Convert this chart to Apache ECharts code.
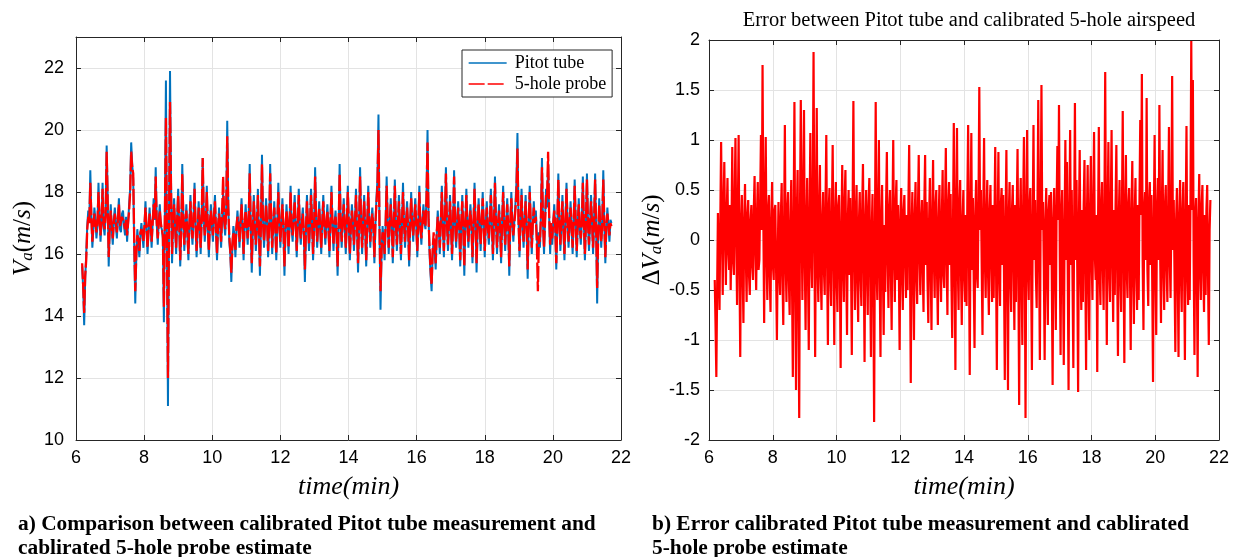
<!DOCTYPE html>
<html>
<head>
<meta charset="utf-8">
<script src="https://cdn.jsdelivr.net/npm/echarts@6/dist/echarts.min.js"></script>
<style>
html, body { margin: 0; padding: 0; background: #ffffff; }
#chart { width: 1235px; height: 557px; }
</style>
</head>
<body>
<div id="chart"></div>
<script>
// Airspeed log, sampled at a fixed rate starting at T0 (minutes)
const T0 = 6.18;
const STEP_SPEED = 0.03;   // sample period of the airspeed traces (min)
const STEP_ERROR = 0.025;  // sample period of the error trace (min)

const timeTicks = [6, 8, 10, 12, 14, 16, 18, 20, 22];
const speedTicks = [10, 12, 14, 16, 18, 20, 22];
const errorTicks = [-2, -1.5, -1, -0.5, 0, 0.5, 1, 1.5, 2];

// Calibrated Pitot tube airspeed (m/s)
const pitotTube = [
  15.6, 14.9, 13.7, 15.2, 16.0, 16.9, 17.4, 17.0, 18.7, 17.3, 16.2, 16.8, 17.5, 17.1, 16.5, 16.9, 18.3, 17.2, 16.4, 17.0,
  18.3, 16.9, 16.6, 17.3, 19.5, 17.9, 15.6, 16.8, 17.6, 16.8, 16.3, 17.1, 17.5, 16.9, 16.5, 17.2, 17.8, 16.8, 16.7, 17.3,
  17.4, 16.9, 16.6, 17.2, 16.4, 17.0, 17.6, 18.1, 19.6, 18.9, 18.4, 16.2, 14.4, 15.9, 16.8, 16.4, 15.9, 16.6, 17.0, 16.6,
  16.2, 16.9, 17.7, 16.8, 16.0, 16.7, 17.5, 16.9, 16.2, 17.0, 17.8, 17.1, 18.8, 17.0, 16.3, 17.1, 17.6, 16.9, 16.8, 16.5,
  13.8, 17.4, 21.6, 16.2, 11.1, 16.9, 21.9, 18.3, 15.7, 17.0, 17.8, 16.8, 16.0, 17.2, 18.1, 16.9, 15.6, 16.7, 18.9, 17.3,
  16.1, 16.9, 17.6, 16.6, 15.8, 17.0, 17.9, 16.8, 16.3, 17.2, 18.3, 16.9, 15.9, 16.7, 17.7, 17.0, 16.0, 17.2, 19.1, 17.3,
  16.4, 17.0, 18.2, 16.8, 15.9, 16.9, 17.6, 16.9, 16.4, 17.3, 17.9, 16.7, 15.8, 16.8, 17.5, 16.9, 16.2, 17.1, 18.0, 17.0,
  16.6, 17.4, 20.3, 17.6, 16.4, 16.0, 15.1, 16.2, 16.9, 16.6, 15.9, 16.8, 17.4, 16.9, 16.2, 17.1, 17.8, 16.8, 15.8, 16.9,
  17.6, 16.9, 16.3, 17.2, 18.9, 16.8, 15.4, 16.7, 17.9, 17.0, 16.1, 16.8, 18.1, 16.7, 15.3, 16.9, 19.2, 17.1, 16.2, 16.9,
  17.8, 17.0, 15.9, 16.8, 18.9, 17.2, 16.0, 16.9, 17.7, 16.8, 15.8, 17.0, 18.3, 16.9, 16.2, 17.1, 17.8, 16.7, 15.3, 16.8,
  17.6, 16.9, 16.0, 17.1, 18.2, 16.8, 16.4, 17.2, 17.9, 16.9, 15.9, 17.0, 18.1, 16.8, 16.3, 17.1, 17.5, 16.6, 15.1, 16.7,
  17.9, 17.0, 16.1, 16.9, 18.1, 17.1, 15.8, 16.8, 18.8, 17.2, 16.2, 16.9, 17.7, 16.8, 16.0, 17.1, 17.9, 16.9, 16.3, 17.0,
  17.6, 16.8, 15.9, 17.1, 18.2, 16.9, 16.1, 17.0, 17.4, 16.6, 15.3, 16.8, 18.9, 17.0, 16.2, 17.1, 17.8, 16.9, 16.0, 17.0,
  18.2, 16.9, 15.8, 16.8, 17.6, 17.0, 16.1, 17.1, 18.1, 16.8, 15.4, 16.9, 18.8, 17.1, 16.0, 17.0, 17.9, 16.8, 15.6, 16.9,
  18.2, 17.0, 16.2, 17.1, 17.5, 16.8, 15.7, 16.9, 17.8, 18.4, 20.5, 16.8, 14.2, 16.0, 16.9, 16.5, 15.8, 16.9, 18.5, 17.1,
  16.0, 16.9, 17.8, 17.0, 15.7, 16.8, 18.4, 17.1, 16.1, 16.9, 17.9, 16.8, 15.8, 17.0, 18.3, 16.9, 16.2, 17.1, 17.7, 16.8,
  15.6, 16.9, 18.0, 17.0, 16.4, 17.2, 17.8, 16.9, 15.9, 17.0, 18.2, 16.8, 16.3, 17.1, 17.6, 17.0, 16.8, 17.9, 20.0, 17.2,
  16.0, 15.3, 14.8, 16.0, 16.5, 16.1, 15.5, 16.6, 17.4, 16.8, 16.0, 17.0, 18.2, 16.9, 15.9, 17.1, 18.8, 17.0, 16.1, 16.9,
  17.9, 16.8, 15.8, 17.0, 18.7, 16.9, 16.2, 17.1, 17.7, 16.8, 15.6, 16.9, 17.9, 16.8, 15.3, 16.9, 18.1, 17.0, 16.2, 17.1,
  17.6, 16.8, 15.7, 16.9, 18.3, 17.0, 15.4, 16.8, 17.8, 16.9, 16.1, 17.1, 18.0, 16.9, 15.9, 17.0, 17.7, 16.8, 16.3, 17.1,
  18.1, 16.9, 15.8, 17.0, 18.5, 17.1, 16.0, 16.9, 17.6, 16.8, 15.7, 17.0, 18.2, 16.9, 16.1, 17.0, 17.8, 16.8, 15.3, 16.9,
  18.0, 17.0, 16.4, 17.1, 17.6, 18.3, 19.9, 17.2, 15.9, 16.9, 18.1, 17.0, 16.2, 17.1, 17.9, 16.8, 15.2, 16.9, 18.2, 17.0,
  16.0, 16.9, 17.7, 17.0, 17.4, 16.6, 15.9, 16.7, 16.2, 17.3, 19.1, 17.0, 16.0, 17.1, 18.1, 17.5, 19.0, 17.2, 16.0, 16.9,
  16.3, 17.0, 17.6, 16.8, 15.5, 16.9, 18.6, 17.1, 16.1, 16.9, 17.9, 16.8, 15.8, 17.0, 18.3, 17.1, 16.2, 16.9, 17.7, 16.8,
  16.0, 17.0, 18.4, 17.1, 15.9, 16.9, 17.8, 16.8, 16.3, 17.1, 18.5, 17.0, 15.8, 16.9, 18.6, 17.1, 16.1, 16.9, 17.9, 17.0,
  16.0, 17.1, 18.6, 16.8, 14.4, 16.5, 17.8, 16.9, 16.2, 17.1, 18.7, 17.0, 15.7, 16.8, 17.5, 16.9, 16.4, 17.1, 17.0
];

// Calibrated 5-hole probe airspeed estimate (m/s)
const fiveHoleProbe = [
  15.7, 15.0, 14.1, 15.3, 15.8, 16.8, 17.2, 17.0, 18.3, 17.2, 16.4, 16.9, 17.3, 17.0, 16.7, 17.0, 18.0, 17.1, 16.6, 17.1,
  18.1, 17.0, 16.8, 17.2, 19.3, 17.7, 15.9, 16.9, 17.4, 16.9, 16.5, 17.0, 17.3, 17.0, 16.7, 17.1, 17.6, 16.9, 16.9, 17.2,
  17.2, 17.0, 16.8, 17.1, 16.6, 17.0, 17.4, 18.0, 19.3, 18.8, 18.6, 16.4, 14.8, 16.0, 16.6, 16.5, 16.1, 16.7, 16.8, 16.7,
  16.4, 16.9, 17.5, 16.9, 16.2, 16.8, 17.3, 17.0, 16.4, 17.0, 17.6, 17.1, 18.5, 17.0, 16.5, 17.0, 17.4, 17.0, 17.0, 16.6,
  14.3, 17.3, 20.4, 16.4, 12.0, 16.8, 20.9, 18.1, 16.0, 17.0, 17.6, 16.9, 16.2, 17.1, 17.9, 17.0, 15.8, 16.8, 18.6, 17.2,
  16.3, 17.0, 17.4, 16.7, 16.0, 17.0, 17.7, 16.9, 16.5, 17.1, 18.1, 17.0, 16.1, 16.8, 17.5, 17.0, 16.2, 17.1, 19.1, 17.2,
  16.6, 17.0, 18.0, 16.9, 16.1, 17.0, 17.4, 17.0, 16.6, 17.2, 17.7, 16.8, 16.0, 16.9, 17.3, 17.0, 16.4, 17.4, 18.5, 17.1,
  16.8, 17.3, 19.8, 17.5, 16.6, 16.1, 15.4, 16.3, 16.7, 16.7, 16.1, 16.9, 17.2, 17.0, 16.4, 17.0, 17.6, 16.9, 16.0, 17.0,
  17.4, 17.0, 16.5, 17.1, 18.6, 16.9, 15.7, 16.8, 17.7, 17.0, 16.3, 16.9, 17.9, 16.8, 15.6, 17.0, 18.9, 17.0, 16.4, 17.0,
  17.6, 17.0, 16.1, 16.9, 18.6, 17.1, 16.2, 17.0, 17.5, 16.9, 16.0, 17.0, 18.0, 17.0, 16.4, 17.0, 17.6, 16.8, 15.6, 16.9,
  17.4, 17.0, 16.2, 17.0, 18.0, 16.9, 16.6, 17.1, 17.7, 17.0, 16.1, 17.0, 17.9, 16.9, 16.5, 17.0, 17.3, 16.7, 15.5, 16.8,
  17.7, 17.0, 16.3, 17.0, 17.9, 17.0, 16.0, 16.9, 18.5, 17.1, 16.4, 17.0, 17.5, 16.9, 16.2, 17.0, 17.7, 17.0, 16.5, 17.0,
  17.4, 16.9, 16.1, 17.0, 18.0, 17.0, 16.3, 17.0, 17.2, 16.7, 15.6, 16.9, 18.6, 17.0, 16.4, 17.0, 17.6, 17.0, 16.2, 17.0,
  18.0, 17.0, 16.0, 16.9, 17.4, 17.0, 16.3, 17.0, 17.9, 16.9, 15.7, 17.0, 18.5, 17.0, 16.2, 17.0, 17.7, 16.9, 15.8, 17.0,
  18.0, 17.0, 16.4, 17.0, 17.3, 16.9, 15.9, 17.0, 17.6, 18.2, 20.0, 16.9, 14.8, 16.1, 16.7, 16.6, 16.0, 17.0, 18.2, 17.0,
  16.2, 17.0, 17.6, 17.0, 15.9, 16.9, 18.2, 17.0, 16.3, 17.0, 17.7, 16.9, 16.0, 17.0, 18.0, 17.0, 16.4, 17.0, 17.5, 16.9,
  15.8, 17.0, 17.8, 17.0, 16.6, 17.1, 17.6, 17.0, 16.1, 17.0, 18.0, 16.9, 16.5, 17.0, 17.4, 17.0, 16.9, 17.8, 19.6, 17.1,
  16.2, 15.5, 15.0, 16.1, 16.7, 16.2, 15.7, 16.7, 17.2, 16.9, 16.2, 17.0, 18.0, 17.0, 16.1, 17.0, 18.6, 17.0, 16.3, 17.0,
  17.7, 16.9, 16.0, 17.0, 18.5, 17.0, 16.4, 17.0, 17.5, 16.9, 15.8, 17.0, 17.7, 16.9, 15.6, 17.0, 17.9, 17.0, 16.4, 17.0,
  17.4, 16.9, 15.9, 17.0, 18.1, 17.0, 15.7, 16.9, 17.6, 17.0, 16.3, 17.0, 17.8, 17.0, 16.1, 17.0, 17.5, 16.9, 16.5, 17.0,
  17.9, 17.0, 16.0, 17.0, 18.3, 17.0, 16.2, 17.0, 17.4, 16.9, 15.9, 17.0, 18.0, 17.0, 16.3, 17.0, 17.6, 16.9, 15.6, 17.0,
  17.8, 17.0, 16.6, 17.0, 17.4, 18.0, 19.4, 17.1, 16.1, 17.0, 17.9, 17.0, 16.4, 17.0, 17.7, 16.9, 15.5, 17.0, 18.0, 17.0,
  16.2, 17.0, 17.5, 17.0, 17.2, 16.3, 14.8, 16.6, 16.4, 17.2, 18.8, 17.0, 16.2, 17.0, 17.9, 17.8, 19.3, 17.3, 16.3, 17.0,
  16.5, 17.0, 17.4, 16.9, 15.7, 17.0, 18.4, 17.0, 16.3, 17.0, 17.7, 16.9, 16.0, 17.0, 18.1, 17.0, 16.4, 17.0, 17.5, 16.9,
  16.2, 17.0, 18.2, 17.0, 16.1, 17.0, 17.6, 16.9, 16.5, 17.0, 18.3, 17.0, 16.0, 17.0, 18.4, 17.0, 16.3, 17.0, 17.7, 17.0,
  16.2, 17.0, 18.4, 16.9, 14.9, 16.6, 17.6, 17.0, 16.4, 17.0, 18.4, 17.0, 15.9, 16.9, 17.3, 17.0, 16.6, 17.0, 16.9
];

// Airspeed error between the two sensors (m/s)
const airspeedError = [
  -0.40, -0.85, -1.37, -0.50, 0.27, -0.30, -0.70, 0.20, 0.98, 0.15, -0.55, 0.30, 0.78, 0.05, -0.45, 0.25, 0.62, -0.10, -0.30, 0.35,
  -0.50, 0.10, 0.93, -0.20, -0.35, 0.40, 1.02, 0.05, -0.65, 0.30, 1.05, -0.25, -1.17, 0.15, 0.45, -0.30, -0.83, 0.20, 0.56, -0.15,
  -0.62, 0.25, 0.40, -0.35, -0.55, 0.20, 0.35, -0.25, -0.40, 0.30, 0.64, -0.10, -0.50, 0.25, 0.58, -0.30, -0.20, 0.40, 1.05, 0.10,
  1.75, 0.20, -0.83, 0.35, 1.03, -0.15, -0.60, 0.30, 0.45, -0.35, -0.72, 0.20, 0.58, -0.25, -0.40, 0.30, 0.35, -0.30, -1.00, -0.20,
  0.38, -0.30, -0.55, 0.25, 0.57, -0.35, -0.85, 0.10, 1.15, -0.20, -0.62, 0.30, 0.48, -0.40, -0.75, 0.15, 0.60, -0.45, -1.37, 0.20,
  1.38, -0.30, -1.50, 0.25, 0.70, -0.60, -1.78, 0.30, 1.40, 0.20, -0.60, 0.35, 1.30, -0.20, -0.90, 0.15, 0.62, -0.30, -1.10, 0.25,
  1.07, -0.15, -0.48, 0.40, 1.88, 0.10, -1.17, 0.20, 1.32, -0.25, -0.62, 0.30, 0.75, -0.35, -0.70, 0.20, 0.48, -0.30, -0.55, 0.35,
  1.05, -0.20, -1.05, 0.30, 0.52, -0.35, -0.66, 0.25, 0.95, -0.15, -1.05, 0.20, 0.58, -0.40, -0.72, 0.35, 0.45, -0.30, -1.28, 0.10,
  0.75, -0.25, -0.62, 0.40, 0.70, -0.30, -0.95, 0.20, 0.50, -0.35, 0.42, -0.20, -1.15, 0.30, 1.39, -0.10, -0.70, 0.25, 0.55, -0.40,
  -0.82, 0.20, 0.48, -0.35, -0.66, 0.30, 0.76, -0.20, -1.22, 0.15, 0.50, -0.30, -0.75, 0.35, 0.62, -0.25, -1.17, 0.10, 0.46, -0.40,
  -1.82, 0.05, 1.38, -0.25, -0.60, 0.30, 1.00, -0.35, -1.17, 0.20, 0.55, -0.30, -0.95, 0.15, -0.52, 0.35, 0.88, -0.20, -0.68, 0.30,
  0.50, -0.30, -0.90, 0.25, 1.00, -0.15, -0.62, 0.35, 0.60, -0.40, 0.35, -0.25, -1.10, 0.20, 0.52, -0.35, -0.70, 0.30, 0.45, -0.20,
  -0.58, 0.25, -0.50, 0.35, 0.95, -0.20, -1.43, 0.10, 0.48, -0.30, -1.00, 0.25, 0.58, -0.35, -0.64, 0.30, 0.85, -0.15, -0.55, 0.20,
  0.40, -0.30, -0.72, 0.35, 0.85, -0.25, 0.38, -0.40, -0.83, 0.20, 0.62, -0.30, -0.90, 0.25, 0.80, -0.20, -0.58, 0.35, 0.50, -0.35,
  -0.85, 0.20, 0.55, -0.30, -0.62, 0.25, 0.70, -0.35, -0.48, 0.30, 0.92, -0.20, -0.75, 0.35, 0.58, -0.25, 0.46, -0.40, -0.98, 0.15,
  1.17, -0.20, -1.30, 0.30, 1.12, -0.25, -0.70, 0.35, 0.60, -0.30, -0.85, 0.20, 0.50, -0.35, -0.62, 0.25, -0.66, 0.40, 1.15, -0.10,
  -1.35, 0.20, 1.07, -0.30, 0.42, -0.40, -1.08, 0.25, 0.60, -0.35, -0.48, 0.35, 1.53, 0.10, 0.50, -0.25, -0.95, 0.30, 1.02, -0.20,
  -0.58, 0.25, 0.60, -0.35, -0.75, 0.30, 0.55, -0.20, -0.62, 0.35, -0.58, 0.20, 0.93, -0.25, -1.30, 0.15, 0.88, -0.30, -0.66, 0.35,
  0.52, -0.25, 0.45, -0.35, -1.40, 0.20, 0.90, -0.30, -1.50, 0.25, 0.58, -0.35, -0.72, 0.30, 0.55, -0.20, -0.90, 0.35, -0.62, 0.30,
  0.91, -0.30, -1.65, 0.20, 0.62, -0.35, -1.05, 0.30, 1.03, -0.10, -1.78, 0.20, 1.10, -0.25, -0.60, 0.35, 0.52, -0.30, -1.30, 0.15,
  1.15, -0.20, 0.40, -0.35, -0.68, 0.30, 1.40, -0.15, -1.20, 0.25, 1.55, 0.10, 0.38, -0.30, -1.20, 0.20, 0.52, -0.35, -0.85, 0.30,
  0.45, -0.25, 0.48, -0.40, -1.45, 0.20, 0.52, -0.30, -0.90, 0.35, 0.94, 0.20, 1.35, -0.15, -1.15, 0.25, 0.50, -0.35, -1.25, 0.10,
  1.00, -0.20, 0.78, -0.30, -1.50, 0.25, 1.10, -0.25, 0.50, -0.40, -1.28, 0.15, 1.37, -0.20, 0.60, -0.35, -1.52, 0.20, 0.90, -0.25,
  -0.70, 0.30, -0.62, 0.35, 0.80, -0.25, -1.30, 0.20, 0.75, -0.35, -1.00, 0.30, 0.84, -0.20, -0.60, 0.35, 1.08, -0.15, -0.40, 0.25,
  -1.32, 0.15, 1.13, -0.30, -0.65, 0.35, 0.58, -0.25, -0.70, 0.30, 1.68, -0.10, -1.05, 0.25, 0.98, -0.30, -0.62, 0.35, 1.10, -0.20,
  -0.82, 0.30, -0.55, 0.35, 0.95, -0.25, -1.16, 0.20, 0.60, -0.35, -0.72, 0.30, 1.29, -0.15, -1.23, 0.25, 0.85, -0.30, -0.58, 0.35,
  0.52, -0.25, -1.10, 0.30, 0.79, -0.35, -0.84, 0.25, 0.62, -0.30, -0.70, 0.35, -0.60, 0.40, 1.20, 0.25, 1.66, -0.20, -0.90, 0.30,
  0.48, -0.20, 1.42, -0.30, -0.66, 0.35, 0.58, -0.25, 0.45, -0.40, -1.42, 0.20, 1.05, -0.25, -0.95, 0.30, 0.62, -0.20, 1.35, -0.15,
  -0.83, 0.25, 0.90, -0.30, -0.70, 0.35, 0.55, -0.25, -0.62, 0.30, 1.13, -0.20, -0.58, 0.25, 1.64, -0.10, 0.40, -0.35, -1.12, 0.20,
  0.52, -0.30, -1.17, 0.25, 0.60, -0.35, -0.72, 0.30, 0.58, -0.25, -1.20, 0.20, 1.14, -0.30, -0.65, 0.35, -0.60, 0.40, 1.99, 0.30,
  1.60, -0.20, -1.15, 0.25, 0.42, -0.30, -1.37, 0.20, 0.66, -0.25, -0.60, 0.35, 0.55, -0.30, -0.72, 0.25, -0.55, 0.30, 0.55, -0.35,
  -1.05, 0.10, 0.40
];

const AXIS_COLOR = '#262626';
const GRID_COLOR = '#e3e3e3';
const SANS = '"Liberation Sans", Arial, sans-serif';
const SERIF = '"Liberation Serif", "Times New Roman", serif';

function withTime(values, step) {
  return values.map((v, i) => [T0 + i * step, v]);
}

function xAxisFor(gridIndex, position, ticks, nameText) {
  const main = position === 'bottom';
  return {
    type: 'value', gridIndex, position,
    min: ticks[0], max: ticks[ticks.length - 1], interval: ticks[1] - ticks[0],
    axisLine: { show: true, onZero: false, lineStyle: { color: AXIS_COLOR, width: 1 } },
    axisTick: { show: true, inside: true, length: 5, lineStyle: { color: AXIS_COLOR } },
    axisLabel: { show: main, color: '#000', fontFamily: SANS, fontSize: 18, margin: 9 },
    splitLine: { show: main, lineStyle: { color: GRID_COLOR, width: 1 } },
    name: main ? nameText : '',
    nameLocation: 'middle', nameGap: 34,
    nameTextStyle: { fontFamily: SERIF, fontStyle: 'italic', fontSize: 26, color: '#000' }
  };
}

function yAxisFor(gridIndex, position, ticks, maxValue, name, labelMargin, nameGap) {
  const main = position === 'left';
  return {
    type: 'value', gridIndex, position,
    min: ticks[0], max: maxValue, interval: ticks[1] - ticks[0],
    axisLine: { show: true, onZero: false, lineStyle: { color: AXIS_COLOR, width: 1 } },
    axisTick: { show: true, inside: true, length: 5, lineStyle: { color: AXIS_COLOR } },
    axisLabel: { show: main, color: '#000', fontFamily: SANS, fontSize: 18, margin: labelMargin,
                 showMaxLabel: maxValue === ticks[ticks.length - 1] },
    splitLine: { show: main, lineStyle: { color: GRID_COLOR, width: 1 } },
    name: main ? name : '',
    nameLocation: 'middle', nameGap: nameGap, nameRotate: 90,
    nameTextStyle: {
      color: '#000',
      rich: {
        v: { fontFamily: SERIF, fontStyle: 'italic', fontSize: 25, color: '#000' },
        u: { fontFamily: SERIF, fontSize: 25, color: '#000' },
        s: { fontFamily: SERIF, fontStyle: 'italic', fontSize: 17, color: '#000', verticalAlign: 'bottom', padding: [8, 0, 0, 0] }
      }
    }
  };
}

const chart = echarts.init(document.getElementById('chart'), null, { renderer: 'canvas' });

chart.setOption({
  animation: false,
  backgroundColor: '#ffffff',
  title: {
    text: 'Error between Pitot tube and calibrated 5-hole airspeed',
    left: 964, top: 5, textAlign: 'center',
    textStyle: { fontFamily: SERIF, fontWeight: 'normal', fontSize: 20.5, color: '#000' }
  },
  legend: {
    data: ['Pitot tube', '5-hole probe'],
    orient: 'vertical',
    left: 462, top: 50,
    itemWidth: 38, itemHeight: 14, itemGap: 3,
    padding: [4, 6, 4, 6],
    backgroundColor: '#ffffff',
    borderColor: AXIS_COLOR, borderWidth: 1, borderRadius: 0,
    itemStyle: { color: 'rgba(0,0,0,0)', borderColor: 'rgba(0,0,0,0)', borderWidth: 0 },
    lineStyle: { width: 1.3 },
    textStyle: { fontFamily: SERIF, fontSize: 18, color: '#000', padding: [0, 0, 0, 3] }
  },
  grid: [
    { left: 76, top: 37, width: 545, height: 403 },
    { left: 709, top: 40, width: 510, height: 400 }
  ],
  xAxis: [
    xAxisFor(0, 'bottom', timeTicks, 'time(min)'),
    xAxisFor(0, 'top', timeTicks, ''),
    xAxisFor(1, 'bottom', timeTicks, 'time(min)'),
    xAxisFor(1, 'top', timeTicks, '')
  ],
  yAxis: [
    yAxisFor(0, 'left', speedTicks, 23, '{v|V}{s|a}{u|(}{v|m}{u|/}{v|s}{u|)}', 12, 40),
    yAxisFor(0, 'right', speedTicks, 23, '', 8, 40),
    yAxisFor(1, 'left', errorTicks, 2, '{u|Δ}{v|V}{s|a}{u|(}{v|m}{u|/}{v|s}{u|)}', 9, 42),
    yAxisFor(1, 'right', errorTicks, 2, '', 8, 40)
  ],
  series: [
    {
      name: 'Pitot tube', type: 'line', xAxisIndex: 0, yAxisIndex: 0,
      data: withTime(pitotTube, STEP_SPEED),
      showSymbol: false, symbol: 'none',
      lineStyle: { color: '#0072bd', width: 2 },
      itemStyle: { color: '#0072bd' }
    },
    {
      name: '5-hole probe', type: 'line', xAxisIndex: 0, yAxisIndex: 0,
      data: withTime(fiveHoleProbe, STEP_SPEED),
      showSymbol: false, symbol: 'none',
      lineStyle: { color: '#ff0000', width: 2.3, type: [16, 3] },
      itemStyle: { color: '#ff0000' }
    },
    {
      name: 'Error', type: 'line', xAxisIndex: 2, yAxisIndex: 2,
      data: withTime(airspeedError, STEP_ERROR),
      showSymbol: false, symbol: 'none',
      lineStyle: { color: '#ff0000', width: 2.2 },
      itemStyle: { color: '#ff0000' }
    }
  ],
  graphic: [
    {
      type: 'text', left: 18, top: 512,
      style: {
        text: 'a) Comparison between calibrated Pitot tube measurement and\ncablirated 5-hole probe estimate',
        font: 'bold 21.4px "Liberation Serif", "Times New Roman", serif',
        fill: '#000', lineHeight: 24
      }
    },
    {
      type: 'text', left: 652, top: 512,
      style: {
        text: 'b) Error calibrated Pitot tube measurement and cablirated\n5-hole probe estimate',
        font: 'bold 21.4px "Liberation Serif", "Times New Roman", serif',
        fill: '#000', lineHeight: 24
      }
    }
  ]
});
</script>
</body>
</html>
